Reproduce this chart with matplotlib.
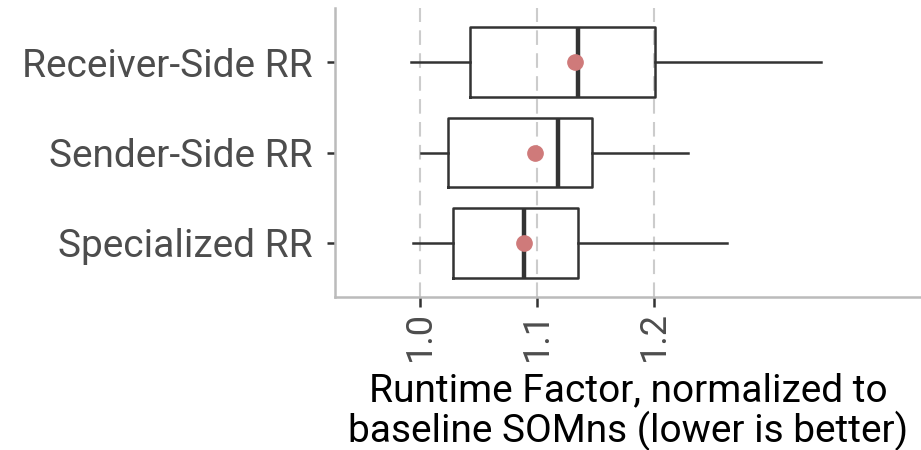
import matplotlib
matplotlib.use("Agg")
import matplotlib.pyplot as plt

# data (runtime factor per variant)
categories = ["Specialized RR", "Sender-Side RR", "Receiver-Side RR"]
whisker_lo = [0.994, 1.001, 0.992]
q1 = [1.028, 1.024, 1.043]
medians = [1.089, 1.118, 1.135]
q3 = [1.135, 1.147, 1.201]
whisker_hi = [1.262, 1.229, 1.343]
means = [1.089, 1.098, 1.132]
xticks = [1.0, 1.1, 1.2]

plt.rcParams['font.family'] = ['Roboto', 'DejaVu Sans']

fig = plt.figure(figsize=(9.21, 4.5), dpi=100)
ax = fig.add_axes([335 / 921, 1 - 297 / 450, 1 - 335 / 921, 289 / 450])

stats = []
for i, name in enumerate(categories):
    stats.append(dict(label=name, whislo=whisker_lo[i], q1=q1[i], med=medians[i],
                      q3=q3[i], whishi=whisker_hi[i], mean=means[i], fliers=[]))

dark = "#333333"
ax.bxp(stats, positions=[1, 2, 3], vert=False, widths=0.77, showmeans=True,
       showcaps=False, showfliers=False,
       boxprops=dict(color=dark, linewidth=1.8),
       whiskerprops=dict(color=dark, linewidth=1.8),
       medianprops=dict(color=dark, linewidth=3.2),
       meanprops=dict(marker='o', markerfacecolor='#cf7a7a', markeredgecolor='#cf7a7a',
                      markersize=11),
       zorder=3)

ax.set_xlim(0.9274, 1.428)
ax.set_ylim(0.4, 3.6)
ax.set_xticks(xticks)
ax.set_xticklabels([f"{t:.1f}" for t in xticks], rotation=90)
ax.set_yticks([1, 2, 3])
ax.set_yticklabels(categories)

ax.grid(axis='x', color='#cccccc', linestyle=(0, (7, 4)), linewidth=1.5, zorder=0)
ax.set_axisbelow(True)

for side in ['top', 'right']:
    ax.spines[side].set_visible(False)
for side in ['left', 'bottom']:
    ax.spines[side].set_color('#bbbbbb')
    ax.spines[side].set_linewidth(1.8)

ax.tick_params(axis='x', length=7, width=1.8, color=dark, labelsize=26,
               labelcolor='#4d4d4d', pad=3)
ax.tick_params(axis='y', length=6, width=1.8, color=dark, labelsize=28,
               labelcolor='#4d4d4d', pad=10)

ax.set_xlabel("Runtime Factor, normalized to\nbaseline SOMns (lower is better)",
              fontsize=28, color='black', linespacing=1.05, labelpad=8)

fig.savefig("out.png", dpi=100)
